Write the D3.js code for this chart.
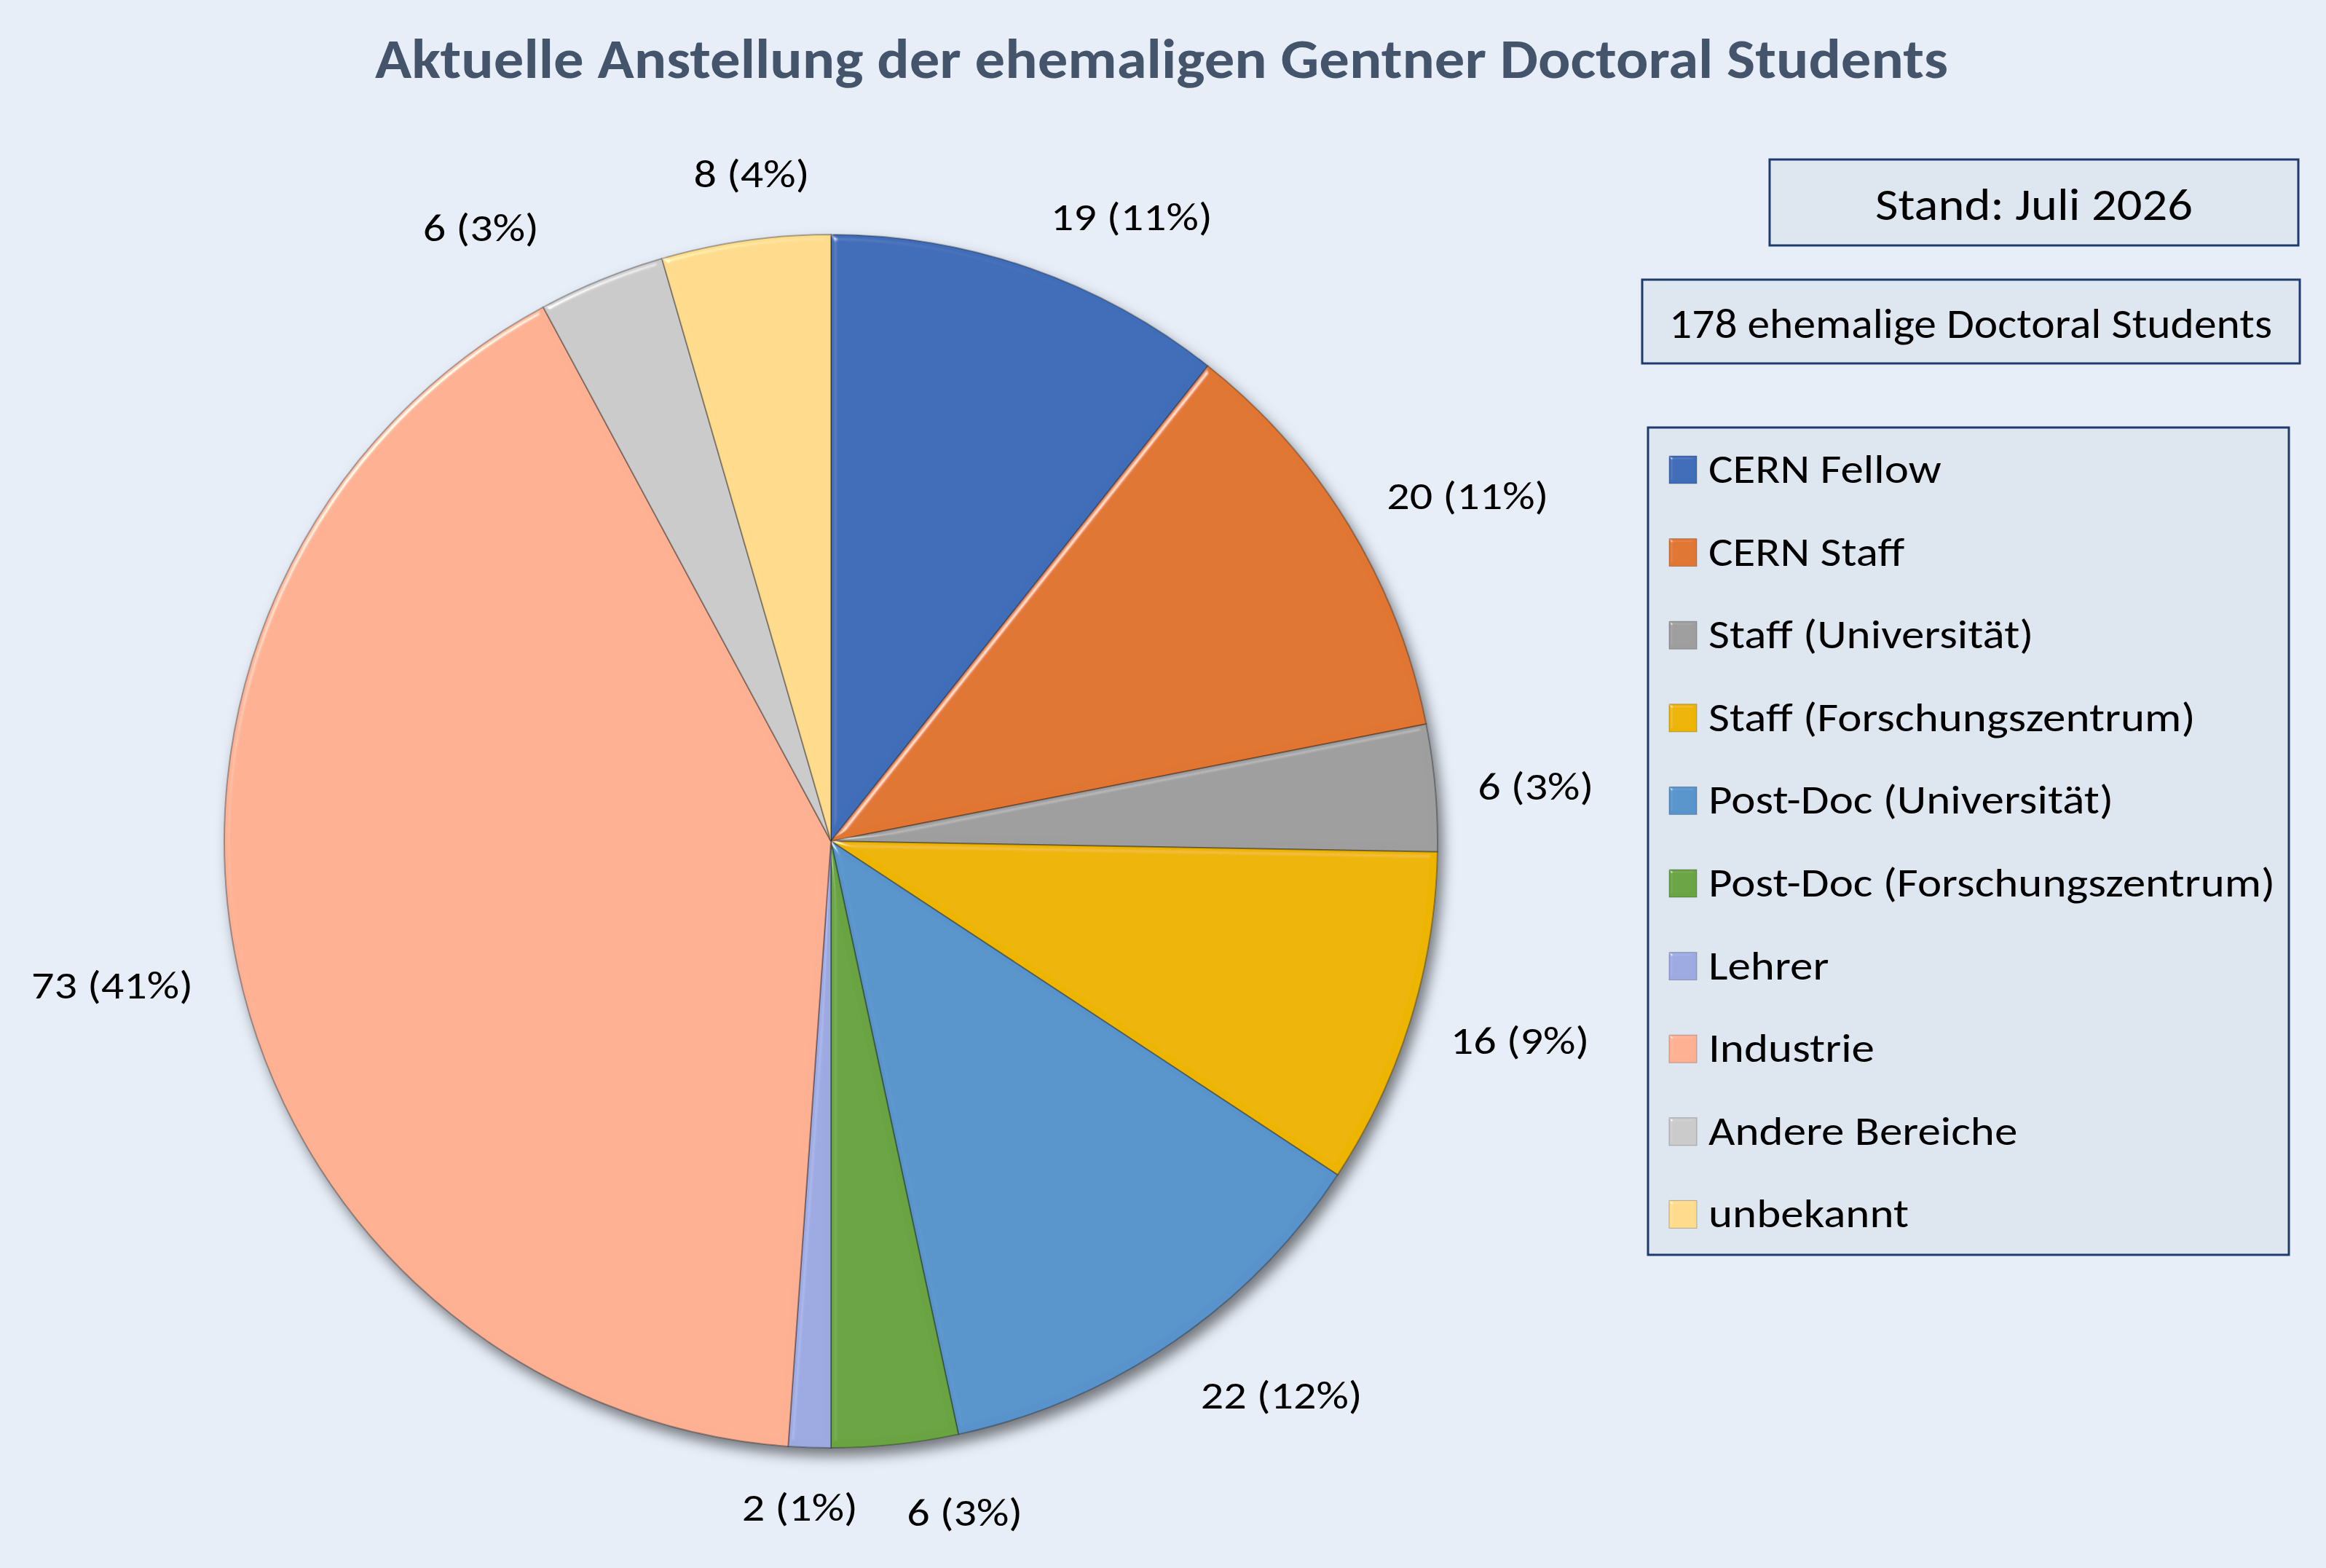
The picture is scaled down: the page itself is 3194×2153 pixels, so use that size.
<!DOCTYPE html>
<html>
<head>
<meta charset="utf-8">
<script src="https://cdn.jsdelivr.net/npm/d3@7"></script>
<style>
  body { margin: 0; background: #e7eef8; overflow: hidden; }
  text { font-family: Carlito, Calibri, Lato, sans-serif; }
</style>
</head>
<body>
<script>
// data
var categories = ['CERN Fellow', 'CERN Staff', 'Staff (Universität)', 'Staff (Forschungszentrum)',
  'Post-Doc (Universität)', 'Post-Doc (Forschungszentrum)', 'Lehrer', 'Industrie',
  'Andere Bereiche', 'unbekannt'];
var counts = [19, 20, 6, 16, 22, 6, 2, 73, 6, 8];
var colors = ['#3f6db8', '#e07630', '#9e9e9e', '#eeb500', '#5894cb',
  '#6aa443', '#9daae2', '#feb093', '#cbcbcb', '#ffdb8c'];
var titleText = 'Aktuelle Anstellung der ehemaligen Gentner Doctoral Students';
var standText = 'Stand: Juli 2026';

var W = 3194, H = 2153;
var total = d3.sum(counts);

var svg = d3.select('body').append('svg')
  .attr('width', W)
  .attr('height', H);

svg.append('rect').attr('width', W).attr('height', H).attr('fill', '#e7eef8');

var defs = svg.append('defs');

// soft bevel, light from top left
function bevel(id, blur, scale) {
  var f = defs.append('filter').attr('id', id)
    .attr('x', '-5%').attr('y', '-5%').attr('width', '110%').attr('height', '110%');
  f.append('feGaussianBlur').attr('in', 'SourceAlpha').attr('stdDeviation', blur).attr('result', 'b');
  f.append('feSpecularLighting').attr('in', 'b').attr('surfaceScale', scale)
    .attr('specularConstant', 0.6).attr('specularExponent', 55)
    .attr('lighting-color', '#ffffff').attr('result', 's')
    .append('feDistantLight').attr('azimuth', 225).attr('elevation', 40);
  f.append('feComposite').attr('in', 's').attr('in2', 'SourceAlpha').attr('operator', 'in').attr('result', 'sc');
  f.append('feComposite').attr('in', 'SourceGraphic').attr('in2', 'sc')
    .attr('operator', 'arithmetic').attr('k1', 0).attr('k2', 1).attr('k3', 1).attr('k4', 0);
}
bevel('bevel', 4, 5);
bevel('bevelSmall', 2, 3);

var shadow = defs.append('filter').attr('id', 'shadow')
  .attr('x', '-10%').attr('y', '-10%').attr('width', '125%').attr('height', '125%');
shadow.append('feDropShadow').attr('dx', 7).attr('dy', 11).attr('stdDeviation', 9)
  .attr('flood-color', '#000').attr('flood-opacity', 0.5);

// title
svg.append('text')
  .attr('x', 515).attr('y', 107)
  .attr('textLength', 2160).attr('lengthAdjust', 'spacingAndGlyphs')
  .style('font-size', '76px').style('font-weight', 'bold')
  .attr('fill', '#44546a')
  .text(titleText);

// pie
var cx = 1141, cy = 1155, R = 833;
var pie = d3.pie().sort(null).value(function(d) { return d; });
var arcs = pie(counts);
var arc = d3.arc().innerRadius(0).outerRadius(R);

var g = svg.append('g').attr('transform', 'translate(' + cx + ',' + cy + ')');
var slices = g.append('g').attr('filter', 'url(#shadow)');
slices.selectAll('path').data(arcs).enter().append('path')
  .attr('d', arc)
  .attr('fill', function(d, i) { return colors[i]; })
  .attr('stroke', 'rgba(0,0,0,0.3)')
  .attr('stroke-width', 2)
  .attr('filter', 'url(#bevel)');

// labels: outside end, with small nudges like excel's layout
var labelNudge = [[89, -13], [34, -10], [19, 2], [21, 8], [63, 21],
  [83, 31], [-9, 19], [-25, 8], [-120, -15], [25, -31]];
var labelSize = 54, labelSx = 1.15;
g.selectAll('text.lbl').data(arcs).enter().append('text')
  .attr('class', 'lbl')
  .attr('text-anchor', 'middle')
  .style('font-size', labelSize + 'px')
  .attr('fill', '#000')
  .text(function(d) { return d.data + ' (' + Math.round(d.data / total * 100) + '%)'; })
  .each(function(d, i) {
    var a = (d.startAngle + d.endAngle) / 2;
    var w = this.getComputedTextLength() * labelSx;
    var ax = Math.sin(a) * (R + 40), ay = -Math.cos(a) * (R + 40);
    var x = ax + Math.sin(a) * w / 2 + labelNudge[i][0];
    var y = ay - Math.cos(a) * 22 + labelNudge[i][1];
    d3.select(this).attr('transform',
      'translate(' + x + ',' + (y + labelSize * 0.36) + ') scale(' + labelSx + ',1)');
  });

// info boxes
function box(x, y, w, h) {
  svg.append('rect').attr('x', x).attr('y', y).attr('width', w).attr('height', h)
    .attr('fill', '#dee6f0').attr('stroke', '#1f3b6e').attr('stroke-width', 3);
}
box(2430, 219, 726, 118);
svg.append('text').attr('x', 2793).attr('y', 302).attr('text-anchor', 'middle')
  .attr('textLength', 436).attr('lengthAdjust', 'spacingAndGlyphs')
  .style('font-size', '62px').text(standText);

box(2255, 384, 903, 115);
svg.append('text').attr('x', 2706).attr('y', 464).attr('text-anchor', 'middle')
  .attr('textLength', 828).attr('lengthAdjust', 'spacingAndGlyphs')
  .style('font-size', '57px').text(total + ' ehemalige Doctoral Students');

// legend
box(2263, 587, 880, 1136);
var leg = svg.append('g');
var row = leg.selectAll('g').data(categories).enter().append('g')
  .attr('transform', function(d, i) { return 'translate(2292,' + (663 + i * 113.6) + ')'; });
row.append('rect')
  .attr('y', -37).attr('width', 38).attr('height', 38)
  .attr('fill', function(d, i) { return colors[i]; })
  .attr('stroke', 'rgba(0,0,0,0.25)').attr('stroke-width', 1)
  .attr('filter', 'url(#bevelSmall)');
row.append('text')
  .attr('transform', 'translate(54,0) scale(1.125,1)')
  .style('font-size', '56px')
  .attr('fill', '#000')
  .text(function(d) { return d; });
</script>
</body>
</html>
